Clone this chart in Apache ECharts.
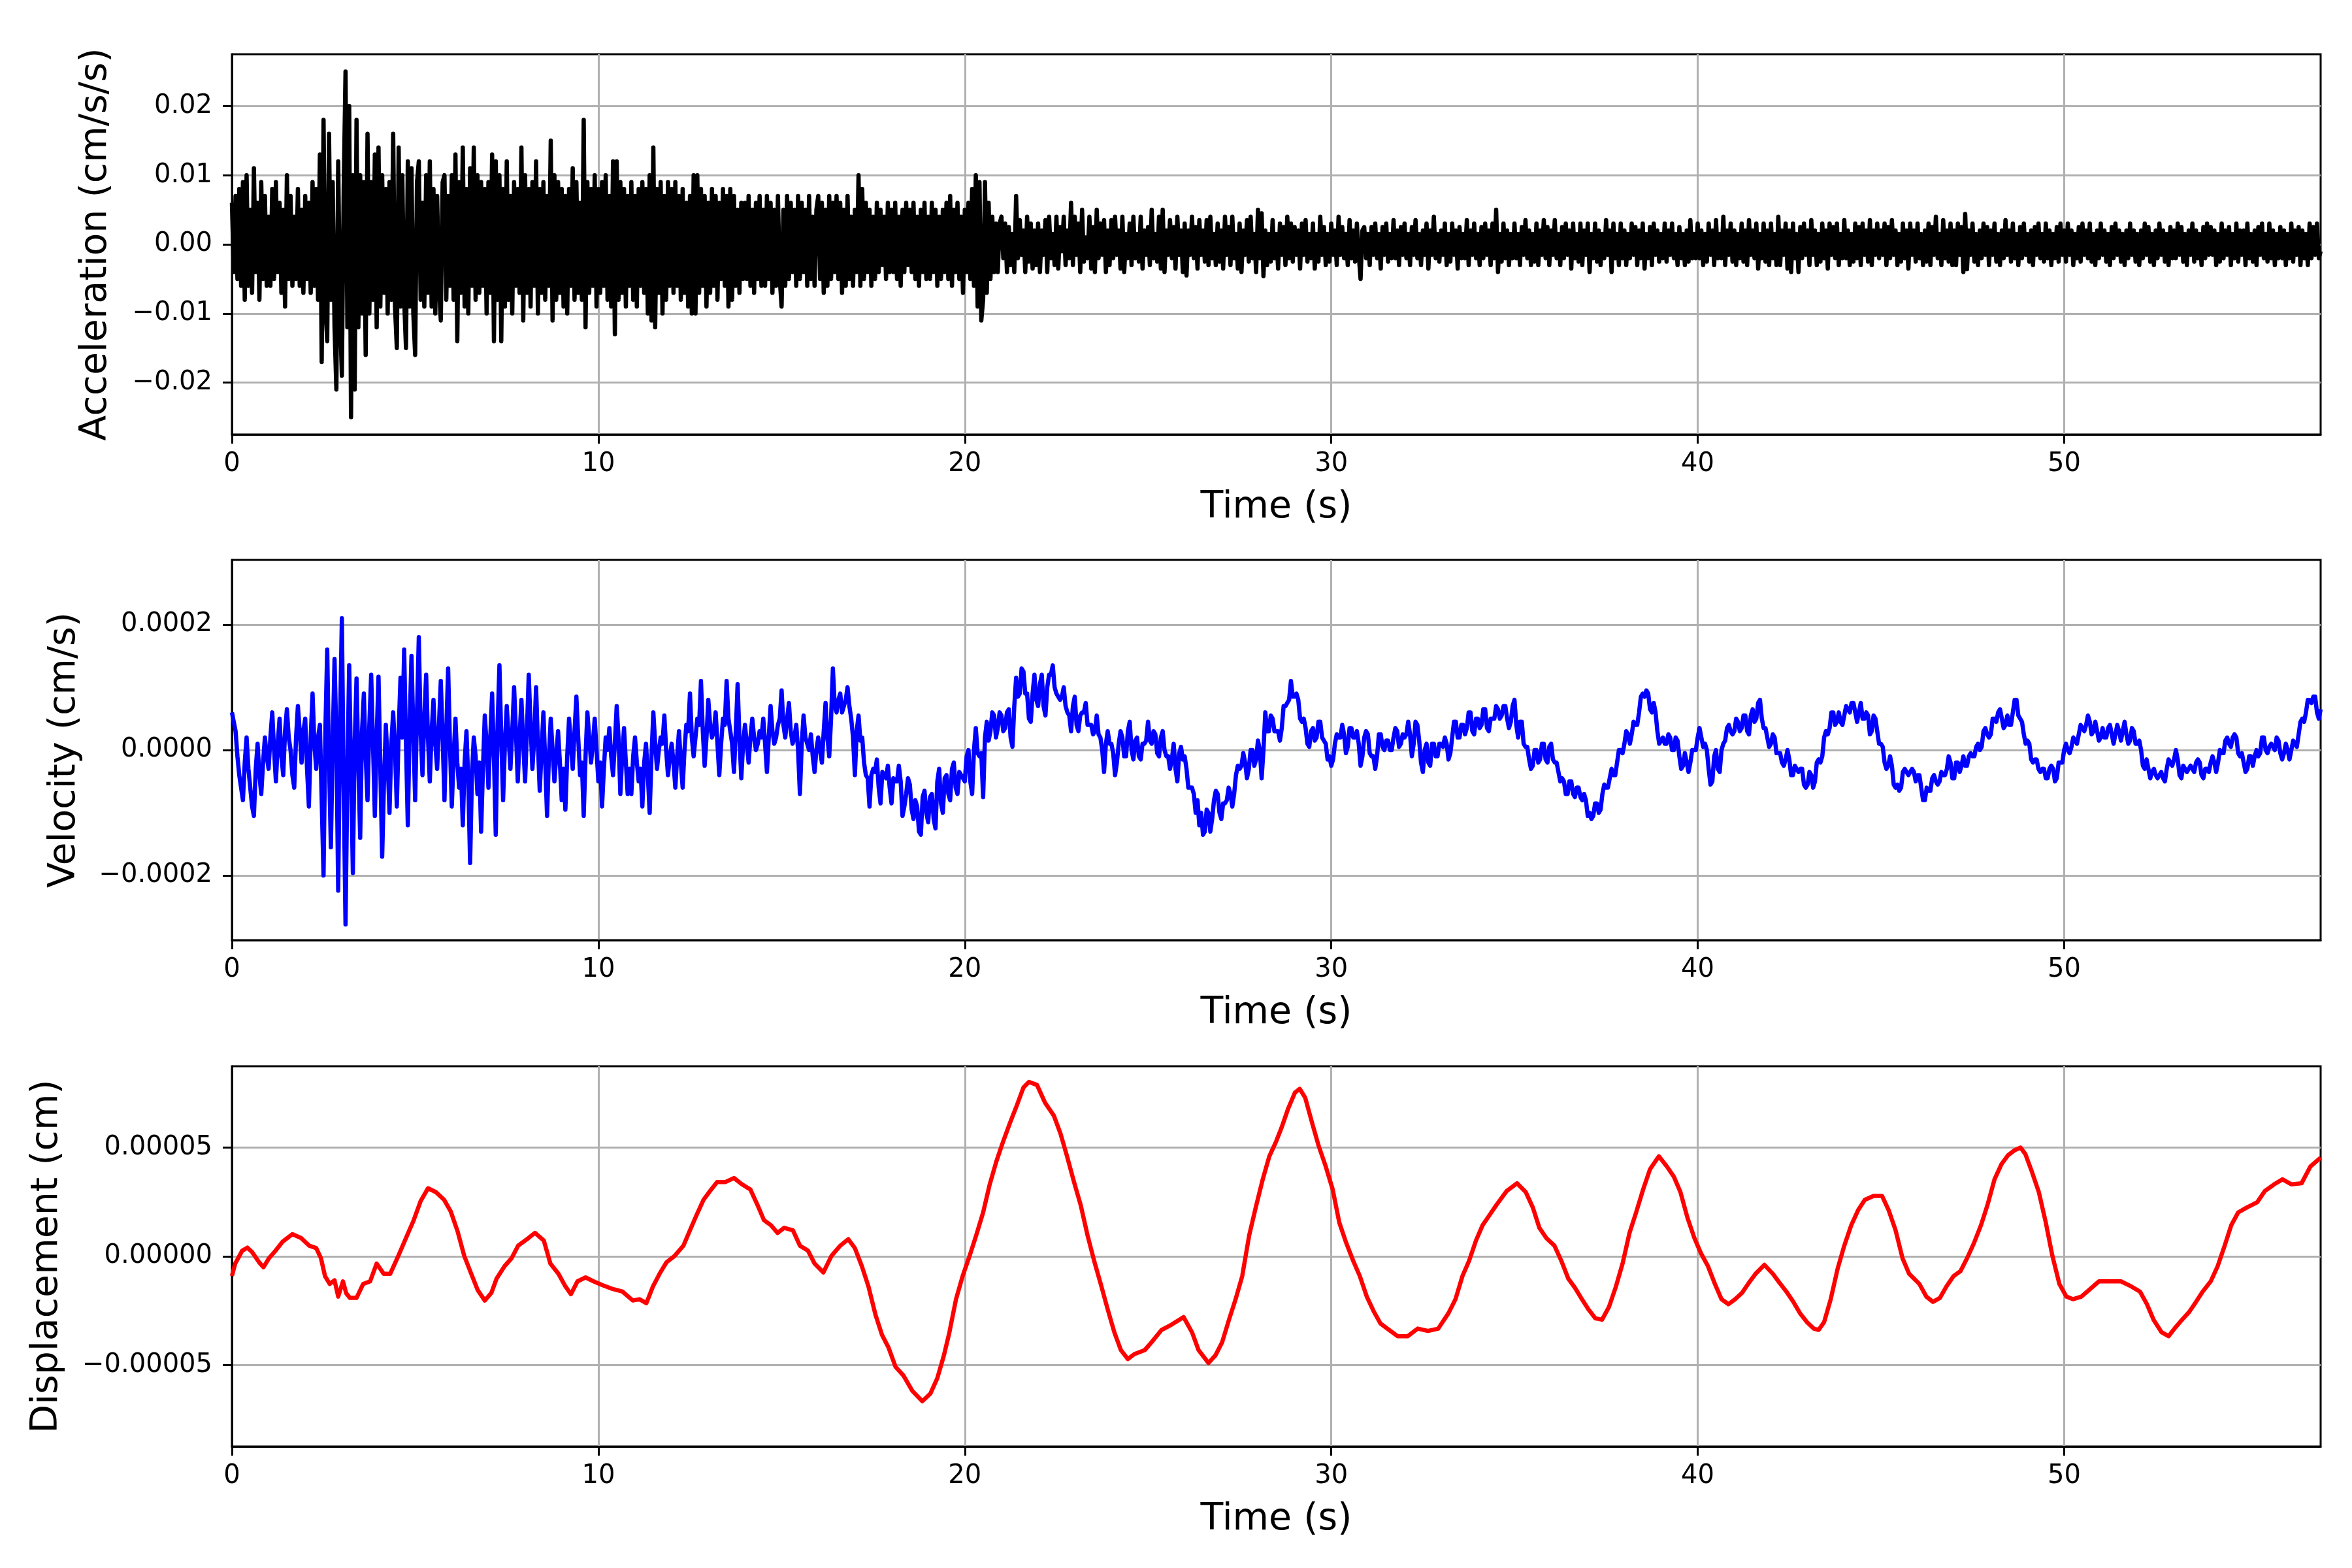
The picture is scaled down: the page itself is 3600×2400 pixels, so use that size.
<!DOCTYPE html>
<html>
<head>
<meta charset="utf-8">
<script src="https://cdn.jsdelivr.net/npm/echarts@6/dist/echarts.min.js"></script>
<style>
html, body { margin: 0; padding: 0; background: #fff; }
#chart { width: 3600px; height: 2400px; }
</style>
</head>
<body>
<div id="chart"></div>
<script>
// acceleration, in 0.001 cm/s/s; one row per second of record
var accRows = [
  [6,-4,7,-5,8,-6,9,-8,10,-6,5,-7,11,-4,6,-8,9,-5,7,-6],
  [4,-6,8,-5,9,-4,6,-7,5,-9,10,-5,7,-6,4,-5,8,-6,5,-7],
  [7,-5,6,-7,9,-6,8,-8,13,-17,18,-9,-14,16,-8,9,-12,-21,12,-10],
  [-19,8,25,-12,20,-25,10,-21,18,-12,10,-10,9,-16,16,-10,9,-8,13,-12],
  [14,-9,10,-7,8,-10,9,-8,16,-9,-15,14,-9,10,-8,-15,12,-9,11,-10],
  [-16,9,12,-8,6,-9,10,-7,12,-9,8,-10,7,-6,-11,9,10,-8,7,-6],
  [10,-8,13,-14,9,-7,14,-9,8,-10,11,-6,14,-8,10,-7,9,-6,8,-10],
  [9,-7,13,-14,12,-8,10,-14,8,-9,12,-8,7,-10,9,-6,8,-7,14,-11],
  [10,-7,8,-9,9,-6,12,-10,8,-7,9,-8,7,-6,15,-11,10,-8,9,-7],
  [8,-9,7,-10,8,-6,11,-8,9,-7,6,-8,18,-12,9,-7,8,-6,10,-9],
  [8,-7,9,-6,10,-8,7,-9,12,-13,12,-8,9,-7,8,-9,7,-6,9,-8],
  [7,-9,8,-6,9,-7,8,-10,10,-11,14,-12,8,-7,9,-10,7,-8,9,-6],
  [8,-7,9,-6,7,-8,8,-7,6,-9,7,-10,10,-10,10,-7,8,-6,7,-9],
  [6,-7,8,-6,7,-8,6,-5,8,-6,7,-9,8,-8,7,-6,5,-7,6,-5],
  [6,-5,7,-6,5,-7,6,-5,7,-6,5,-6,7,-5,6,-7,5,-6,7,-5],
  [-9,5,-6,7,-5,6,-4,5,-6,7,-5,6,-4,5,-6,7,-5,4,-6,5],
  [7,-5,6,-7,5,-6,7,-5,6,-4,7,-5,6,-7,5,-6,7,-5,4,-6],
  [5,-4,10,-6,8,-5,6,-4,5,-6,4,-5,6,-4,5,-3,4,-5,6,-4],
  [5,-4,6,-5,4,-6,5,-4,6,-3,5,-4,6,-5,4,-6,5,-4,6,-5],
  [4,-5,6,-4,5,-6,4,-5,5,-4,6,-5,7,-6,5,-4,6,-5,4,-7],
  [5,-4,6,-5,8,-6,10,-9,9,-11,-8,9,-7,6,-5,4,-4,3,-4,3],
  [4,-2,3,-4,2.5,-3,1.5,-4,7,-2,3.5,-1.5,2,-4,4,-2.5,3,-3.5,2,-3],
  [3,-4,2,-1.5,3.5,-4,4,-2,1.5,-3,4,-3.5,2.5,-1,4,-3,2,-2,6,-3],
  [4,-1.5,3,-4,5,-2.5,1,-2,4,-3.5,2.5,-4,5,-2,3,-1.5,3.5,-4,2,-3],
  [3.5,-2,4,-1.5,2,-3.5,4,-4,1.5,-2,3,-3,4,-2,1.5,-2.5,4,-3.5,2,-1.5],
  [2.5,-3,5,-2,1.5,-2.5,4,-3.5,5,-4,2,-1.5,3.5,-2,2.5,-3.5,4,-1.5,2,-4],
  [3,-4.5,2,-1.5,4,-2,2.5,-3.5,3.5,-1.5,2,-2.5,3.5,-3,4,-2,1.5,-3,3,-2.5],
  [2,-3.5,4,-1.5,2.5,-3,4,-2,1.5,-3.5,3,-4,2,-1.5,3.5,-2.5,4,-2,1.5,-4],
  [5,-2,4.5,-4.6,2,-3,1.5,-2.5,3.5,-2,1.5,-3.5,3,-1.5,2.5,-3,4,-2,3,-2.5],
  [2.5,-1.5,2,-3.5,3,-1.5,3.5,-2.5,1.5,-2,3,-3.5,1.5,-2.5,4,-1.5,2.5,-3,1.5,-2.5],
  [3,-1.5,2,-3,4,-1.5,2.5,-2,1.5,-3,3.5,-2,2,-2.5,3,-1.5,-5,2,2.5,-2],
  [1.5,-3,2.5,-1.5,3,-2,1.5,-3.5,2.5,-1.5,3,-2.5,1.5,-2,3.5,-2,2,-3,2.5,-1.5],
  [3,-2,1.5,-3,2.5,-1.5,3.5,-2,1.5,-3,2,-1.5,3,-3.5,2,-1.5,4,-2,1.5,-2.5],
  [2,-1.5,3,-3,1.5,-2.5,3,-1.5,2,-3.5,2.5,-2,1.5,-2,3.5,-3,2,-1.5,3,-2],
  [1.5,-3,2.5,-2,3,-1.5,2,-3,3,-2,5,-4,1.5,-2.5,3,-2,2,-3,1.5,-2],
  [3,-2,1.5,-3,2.5,-1.5,3.5,-2,2,-3,1.5,-2.5,3,-3,2,-1.5,3.5,-2,2.5,-3],
  [2,-1.5,3.5,-2,1.5,-3,2.5,-2,3,-1.5,2,-3.5,3,-2,1.5,-2.5,3,-3,2,-1.5],
  [3,-4,1.5,-2,3,-2.5,2,-3,1.5,-2,3.5,-1.5,2,-4,3,-2,1.5,-3,3,-2],
  [2,-3,1.5,-2,3,-1.5,2.5,-3,2,-2,3,-3.5,1.5,-2,2.5,-3,3,-1.5,2,-2.5],
  [1.5,-2,3,-2.5,2,-1.5,3,-2,1.5,-3,2.5,-2,1.5,-3,2,-2.5,3.5,-2,1.5,-2],
  [3,-2,2,-3,1.5,-2.5,3,-1.5,2,-3,3.5,-2,1.5,-2,4,-3,2,-1.5,3,-2.5],
  [2,-3,1.5,-2,3,-2.5,2,-3,3.5,-1.5,2,-2,3,-3.5,1.5,-2,3,-2.5,2,-3],
  [3,-2,1.5,-3,4,-3,2,-1.5,3,-3.5,2,-4,3,-2,1.5,-4,2.5,-2,3,-1.5],
  [2,-3,3.5,-1.5,2,-3,1.5,-2.5,3,-2,2,-3.5,3,-1.5,2.5,-2,3,-3,1.5,-2],
  [3.5,-2,2,-3,1.5,-2.5,3,-2,2.5,-3,3,-1.5,2,-2.5,3.5,-3,2,-1.5,3,-2],
  [2,-1.5,3,-3,2.5,-2,3.5,-1.5,2,-3,1.5,-2.5,3,-2,2,-3.5,3,-1.5,2,-2.5],
  [3,-2,1.5,-3,2,-2.5,3,-3,2.5,-1.5,4,-2,1.5,-3,3.5,-2,2,-2.5,3,-3],
  [2,-3,3,-1.5,2.5,-4,4.4,-3.6,2,-1.5,3,-2.5,1.5,-3,2,-2,3,-1.5,2.5,-3],
  [2,-1.5,3,-2.5,1.5,-3,2,-2,3.5,-1.5,2,-2.5,3,-2,1.5,-3,2.5,-2,3,-1.5],
  [1.5,-2.5,2,-3,2.5,-1.5,3,-2,1.5,-2.5,3,-2,2,-3,1.5,-2,2.5,-2.5,3,-1.5],
  [2,-2.5,3,-1.5,2,-3,1.5,-2,2.5,-2.5,3,-1.5,2,-2,3,-2.5,1.5,-3,2,-2],
  [3,-1.5,2,-2.5,1.5,-3,2.5,-2,3,-1.5,2,-2.5,1.5,-3,2,-2,3,-1.5,2,-2.5],
  [1.5,-3,2,-2,3,-1.5,2.5,-2.5,1.5,-3,2,-2,3,-1.5,2,-2.5,1.5,-3,2.5,-2],
  [2,-2,3,-1.5,2.5,-2.5,1.5,-3,2,-1.5,3,-2.5,2,-2,1.5,-3,2.5,-2,3,-1.5],
  [2.5,-1.5,2,-3,1.5,-2.5,3,-2,2,-1.5,2.5,-3,1.5,-2,3,-2.5,2,-1.5,2,-3],
  [3,-2,1.5,-2.5,2,-3,2.5,-1.5,3,-2,1.5,-2.5,3,-2,2,-3,1.5,-2,2.5,-2],
  [2,-3,1.5,-2,3,-2.5,2,-1.5,2.5,-3,2,-2,1.5,-3,3,-2,2.5,-1.5,3,-2],
  [-1]
];

// velocity, in 0.0001 cm/s; one row per second of record
var velRows = [
  [0.6,0.45,0.3,-0.1,-0.4,-0.6,-0.8,-0.2,0.2,-0.3,-0.6,-0.9,-1.05,-0.3,0.1,-0.4,-0.7,-0.2,0.2,-0.1],
  [-0.3,0.2,0.6,0.0,-0.5,0.1,0.5,-0.1,-0.4,0.3,0.65,0.2,0.0,-0.4,-0.6,0.2,0.7,0.3,-0.2,0.3],
  [0.5,-0.3,-0.9,0.2,0.9,0.1,-0.3,0.2,0.4,-0.8,-2.0,0.3,1.6,-0.2,-1.55,0.1,1.45,0.2,-2.24,0.4],
  [2.1,-0.6,-2.78,-0.4,1.35,-0.3,-1.96,0.1,1.14,-0.2,-1.4,0.3,0.9,-0.1,-0.8,0.4,1.2,0.1,-1.05,0.2],
  [1.17,-0.3,-1.7,-0.5,0.4,-0.2,-1.0,0.1,0.6,0.0,-0.9,0.3,1.15,0.2,1.6,0.1,-1.2,0.4,1.5,0.3],
  [-0.8,0.6,1.8,0.3,-0.4,0.5,1.2,0.2,-0.5,0.3,0.8,0.1,-0.3,0.4,1.1,0.2,-0.8,0.3,1.3,0.1],
  [-0.9,-0.1,0.5,-0.2,-0.6,-0.3,-1.2,-0.2,0.3,-0.5,-1.8,-0.4,0.2,-0.1,-0.7,-0.2,-1.3,-0.3,0.55,0.1],
  [-0.6,0.2,0.9,-0.1,-1.35,0.4,1.35,0.2,-0.8,0.1,0.7,0.2,-0.3,0.3,1.0,0.3,-0.5,0.2,0.8,0.1],
  [-0.5,0.3,1.2,0.4,-0.3,0.2,1.0,0.1,-0.65,0.0,0.6,-0.2,-1.05,-0.1,0.5,0.0,-0.5,-0.1,0.3,-0.2],
  [-0.8,-0.3,-0.95,-0.1,0.5,0.1,-0.3,0.3,0.85,0.2,-0.4,-0.2,-1.05,-0.1,0.6,0.2,-0.2,0.1,0.5,0.0],
  [-0.5,-0.2,-0.9,-0.3,0.2,0.0,0.35,-0.1,-0.4,0.1,0.7,0.2,-0.7,-0.1,0.35,-0.2,-0.7,-0.3,-0.7,-0.1],
  [0.2,-0.2,-0.5,-0.3,-0.9,-0.2,0.1,-0.4,-1.0,-0.1,0.6,0.1,-0.3,0.0,0.2,0.1,0.55,0.0,-0.4,-0.1],
  [0.1,-0.2,-0.6,-0.1,0.3,-0.2,-0.6,0.0,0.4,0.3,0.9,0.2,-0.1,0.2,0.5,0.4,1.1,0.3,-0.25,0.2],
  [0.8,0.4,0.2,0.3,0.6,0.1,-0.4,0.1,0.5,0.4,1.1,0.5,0.3,0.1,-0.35,0.3,1.05,0.2,-0.45,0.1],
  [0.4,0.1,-0.2,0.2,0.5,0.2,0.0,0.1,0.3,0.2,0.5,0.1,-0.35,0.2,0.7,0.3,0.1,0.2,0.4,0.5],
  [0.95,0.4,0.2,0.5,0.75,0.3,0.1,0.2,0.4,0.0,-0.7,0.1,0.55,0.2,0.1,0.0,0.25,-0.1,-0.35,0.0],
  [0.2,0.0,-0.2,0.3,0.75,0.2,-0.1,0.5,1.3,0.7,0.6,0.8,0.9,0.6,0.7,0.8,1.0,0.7,0.5,0.2],
  [-0.4,0.3,0.55,0.15,0.2,-0.2,-0.4,-0.45,-0.9,-0.4,-0.3,-0.35,-0.15,-0.6,-0.85,-0.35,-0.4,-0.45,-0.25,-0.6],
  [-0.85,-0.45,-0.5,-0.5,-0.25,-0.5,-1.05,-0.9,-0.7,-0.45,-0.55,-0.95,-1.1,-0.8,-0.9,-1.3,-1.35,-0.75,-0.65,-1.0],
  [-1.15,-0.75,-0.7,-1.1,-1.25,-0.5,-0.3,-0.85,-1.0,-0.45,-0.4,-0.7,-0.8,-0.3,-0.2,-0.6,-0.7,-0.35,-0.4,-0.45],
  [-0.5,-0.1,0.0,-0.5,-0.7,0.0,0.35,-0.05,-0.1,-0.05,-0.75,0.2,0.45,0.15,0.3,0.6,0.55,0.2,0.35,0.6],
  [0.55,0.3,0.35,0.6,0.65,0.2,0.05,0.7,1.15,0.85,0.9,1.3,1.25,0.9,0.9,0.5,0.45,0.9,1.2,0.8],
  [0.7,1.05,1.2,0.7,0.55,1.0,1.2,1.2,1.35,1.0,0.9,0.85,0.8,0.85,1.0,0.7,0.6,0.55,0.3,0.7],
  [0.85,0.4,0.3,0.55,0.6,0.6,0.75,0.4,0.4,0.4,0.25,0.3,0.55,0.25,0.2,0.0,-0.35,0.1,0.3,0.1],
  [0.1,-0.05,-0.4,-0.2,0.1,0.3,0.2,-0.1,-0.1,0.3,0.45,0.0,-0.15,0.15,0.2,-0.1,-0.15,0.1,0.1,0.15],
  [0.45,0.15,0.1,0.3,0.25,-0.05,-0.1,0.2,0.3,0.0,-0.1,-0.1,-0.3,-0.15,0.1,-0.3,-0.5,-0.05,0.05,-0.15],
  [-0.1,-0.3,-0.6,-0.6,-0.6,-0.7,-1.0,-0.8,-1.2,-1.0,-1.35,-1.3,-0.95,-1.0,-1.3,-1.1,-0.8,-0.65,-0.7,-1.0],
  [-1.1,-0.85,-0.85,-0.8,-0.6,-0.7,-0.9,-0.7,-0.4,-0.25,-0.3,-0.25,-0.05,-0.2,-0.45,-0.3,0.0,0.0,-0.25,-0.15],
  [0.15,0.0,-0.45,0.0,0.6,0.3,0.3,0.55,0.5,0.3,0.3,0.3,0.15,0.35,0.7,0.7,0.75,0.8,1.1,0.85],
  [0.85,0.9,0.8,0.5,0.45,0.5,0.35,0.1,0.05,0.3,0.35,0.15,0.2,0.45,0.45,0.2,0.15,0.1,-0.15,-0.1],
  [-0.25,-0.15,0.1,0.25,0.2,0.2,0.4,0.25,-0.05,0.05,0.35,0.35,0.2,0.2,0.3,0.1,-0.25,-0.1,0.2,0.3],
  [0.25,-0.05,-0.1,-0.1,-0.3,-0.1,0.25,0.25,0.05,0.0,0.15,0.15,0.0,0.0,0.2,0.35,0.3,0.05,0.1,0.25],
  [0.2,0.25,0.45,0.25,-0.1,0.1,0.45,0.4,0.15,-0.2,-0.35,0.0,0.1,-0.2,-0.25,0.1,0.1,-0.1,-0.1,0.1],
  [0.1,0.05,0.2,0.1,-0.15,-0.05,0.2,0.45,0.45,0.2,0.2,0.4,0.4,0.25,0.35,0.6,0.6,0.3,0.25,0.5],
  [0.5,0.35,0.4,0.65,0.65,0.35,0.3,0.5,0.5,0.5,0.7,0.65,0.5,0.55,0.7,0.7,0.5,0.35,0.45,0.7],
  [0.8,0.4,0.2,0.45,0.45,0.1,0.05,0.05,-0.15,-0.3,-0.25,0.0,0.0,-0.2,-0.15,0.1,0.1,-0.15,-0.2,0.05],
  [0.1,-0.15,-0.2,-0.2,-0.35,-0.5,-0.45,-0.5,-0.7,-0.7,-0.5,-0.5,-0.7,-0.75,-0.6,-0.6,-0.75,-0.8,-0.7,-0.8],
  [-1.05,-1.0,-1.1,-1.05,-0.85,-0.85,-1.0,-0.95,-0.7,-0.55,-0.6,-0.6,-0.45,-0.3,-0.4,-0.4,-0.2,0.0,0.0,-0.05],
  [0.1,0.3,0.25,0.1,0.25,0.45,0.4,0.4,0.6,0.85,0.9,0.85,0.95,0.9,0.65,0.6,0.75,0.6,0.3,0.1],
  [0.15,0.2,0.1,0.1,0.25,0.2,0.0,0.0,0.2,0.15,-0.1,-0.3,-0.25,-0.05,-0.2,-0.35,-0.2,0.0,0.0,0.0],
  [0.2,0.35,0.2,0.05,0.1,0.0,-0.3,-0.55,-0.5,-0.1,0.0,-0.3,-0.35,0.0,0.1,0.15,0.35,0.4,0.3,0.25],
  [0.3,0.5,0.45,0.3,0.35,0.55,0.55,0.3,0.25,0.55,0.65,0.45,0.5,0.75,0.8,0.5,0.35,0.35,0.2,0.05],
  [0.1,0.25,0.2,-0.05,-0.05,-0.05,-0.2,-0.25,-0.15,0.0,-0.15,-0.4,-0.4,-0.25,-0.3,-0.35,-0.3,-0.3,-0.55,-0.6],
  [-0.55,-0.35,-0.4,-0.6,-0.5,-0.2,-0.15,-0.2,-0.1,0.2,0.3,0.25,0.35,0.6,0.6,0.4,0.45,0.6,0.45,0.4],
  [0.55,0.7,0.65,0.6,0.75,0.75,0.6,0.45,0.6,0.75,0.5,0.5,0.6,0.55,0.25,0.3,0.55,0.5,0.3,0.1],
  [0.1,0.05,-0.2,-0.3,-0.25,-0.1,-0.25,-0.55,-0.6,-0.55,-0.65,-0.6,-0.35,-0.3,-0.35,-0.4,-0.35,-0.3,-0.35,-0.5],
  [-0.4,-0.4,-0.6,-0.8,-0.8,-0.6,-0.65,-0.65,-0.45,-0.4,-0.5,-0.55,-0.5,-0.35,-0.4,-0.4,-0.3,-0.1,-0.2,-0.45],
  [-0.45,-0.2,-0.2,-0.35,-0.25,-0.1,-0.25,-0.25,-0.1,-0.05,-0.1,-0.1,0.05,0.1,0.0,0.05,0.3,0.35,0.25,0.2],
  [0.25,0.5,0.5,0.45,0.6,0.65,0.5,0.35,0.4,0.55,0.4,0.4,0.6,0.8,0.8,0.55,0.5,0.45,0.25,0.1],
  [0.15,0.1,-0.15,-0.2,-0.15,-0.15,-0.3,-0.35,-0.3,-0.3,-0.45,-0.45,-0.3,-0.25,-0.3,-0.5,-0.45,-0.2,-0.2,-0.2],
  [0.0,0.1,0.0,-0.05,0.05,0.2,0.15,0.1,0.25,0.4,0.35,0.3,0.4,0.55,0.45,0.25,0.3,0.45,0.3,0.15],
  [0.2,0.35,0.2,0.2,0.35,0.4,0.25,0.1,0.25,0.4,0.3,0.15,0.3,0.45,0.25,0.1,0.15,0.35,0.3,0.1],
  [0.1,0.15,0.0,-0.25,-0.3,-0.15,-0.3,-0.45,-0.35,-0.3,-0.4,-0.45,-0.4,-0.35,-0.45,-0.5,-0.3,-0.15,-0.2,-0.25],
  [-0.15,0.0,-0.15,-0.4,-0.45,-0.25,-0.3,-0.35,-0.3,-0.25,-0.3,-0.35,-0.2,-0.15,-0.2,-0.4,-0.45,-0.3,-0.3,-0.35],
  [-0.2,-0.1,-0.2,-0.35,-0.2,0.0,-0.05,-0.05,0.15,0.2,0.1,0.05,0.2,0.25,0.2,-0.05,-0.1,-0.05,-0.2,-0.35],
  [-0.3,-0.1,-0.1,-0.25,-0.1,0.0,-0.1,-0.05,0.2,0.2,0.0,-0.05,0.05,0.1,0.05,0.0,0.2,0.15,-0.05,-0.15],
  [-0.05,0.1,0.0,-0.15,0.0,0.15,0.1,0.05,0.25,0.45,0.5,0.45,0.6,0.8,0.8,0.75,0.85,0.85,0.6,0.5],
  [0.65]
];

// displacement, [time s, value in 0.00001 cm]
var dispPoints = [
  [0,-0.9],[0.09,-0.33],[0.28,0.26],[0.42,0.4],[0.55,0.2],[0.74,-0.27],[0.86,-0.5],[1.01,-0.09],
  [1.19,0.26],[1.38,0.67],[1.65,1.02],[1.89,0.84],[2.11,0.49],[2.3,0.38],[2.43,-0.09],[2.54,-0.91],
  [2.67,-1.27],[2.8,-1.1],[2.9,-1.85],[3.03,-1.15],[3.12,-1.7],[3.22,-1.91],[3.4,-1.91],[3.58,-1.27],
  [3.77,-1.15],[3.95,-0.33],[4.14,-0.8],[4.32,-0.8],[4.54,0.02],[4.78,0.96],[4.96,1.66],[5.15,2.54],
  [5.35,3.13],[5.57,2.95],[5.79,2.6],[5.97,2.07],[6.16,1.14],[6.34,0.02],[6.53,-0.8],[6.71,-1.56],
  [6.9,-2.03],[7.08,-1.68],[7.22,-1.03],[7.44,-0.45],[7.63,-0.09],[7.81,0.49],[8.09,0.84],[8.27,1.08],
  [8.51,0.73],[8.69,-0.33],[8.91,-0.8],[9.1,-1.38],[9.25,-1.74],[9.43,-1.15],[9.65,-0.97],[9.87,-1.15],
  [10.11,-1.32],[10.39,-1.5],[10.66,-1.62],[10.94,-2.03],[11.12,-1.97],[11.31,-2.15],[11.49,-1.38],[11.67,-0.8],
  [11.86,-0.27],[12.08,0.02],[12.32,0.49],[12.5,1.2],[12.68,1.9],[12.87,2.6],[13.05,3.01],[13.24,3.42],
  [13.47,3.42],[13.7,3.6],[13.92,3.31],[14.15,3.07],[14.34,2.37],[14.52,1.66],[14.71,1.43],[14.89,1.08],
  [15.07,1.31],[15.31,1.2],[15.5,0.49],[15.72,0.26],[15.9,-0.33],[16.14,-0.74],[16.36,0.02],[16.6,0.49],
  [16.82,0.79],[17.0,0.38],[17.19,-0.45],[17.37,-1.38],[17.56,-2.67],[17.74,-3.61],[17.92,-4.2],[18.11,-5.08],
  [18.33,-5.49],[18.57,-6.19],[18.84,-6.66],[19.06,-6.31],[19.25,-5.6],[19.43,-4.55],[19.58,-3.49],[19.76,-1.97],
  [19.94,-0.91],[20.13,0.02],[20.31,0.96],[20.5,2.02],[20.68,3.31],[20.86,4.36],[21.05,5.3],[21.23,6.12],
  [21.42,6.94],[21.6,7.76],[21.75,8.02],[21.97,7.88],[22.19,7.06],[22.43,6.47],[22.61,5.65],[22.79,4.6],
  [22.98,3.42],[23.16,2.37],[23.35,0.96],[23.53,-0.21],[23.71,-1.27],[23.9,-2.44],[24.08,-3.49],[24.26,-4.31],
  [24.45,-4.72],[24.63,-4.49],[24.91,-4.31],[25.09,-3.96],[25.37,-3.38],[25.64,-3.14],[25.97,-2.79],[26.2,-3.49],
  [26.38,-4.31],[26.65,-4.9],[26.84,-4.55],[27.02,-3.96],[27.21,-2.91],[27.39,-1.97],[27.57,-0.91],[27.76,0.96],
  [27.94,2.25],[28.13,3.54],[28.31,4.6],[28.5,5.3],[28.64,5.9],[28.83,6.82],[29.01,7.53],[29.14,7.7],
  [29.29,7.29],[29.48,6.12],[29.66,5.06],[29.85,4.13],[30.04,3.07],[30.22,1.55],[30.41,0.61],[30.6,-0.21],
  [30.78,-0.91],[30.97,-1.85],[31.15,-2.5],[31.34,-3.08],[31.53,-3.32],[31.81,-3.67],[32.09,-3.67],[32.36,-3.32],
  [32.64,-3.43],[32.92,-3.32],[33.2,-2.61],[33.39,-1.97],[33.58,-0.91],[33.76,-0.21],[33.95,0.73],[34.13,1.43],
  [34.32,1.9],[34.51,2.37],[34.79,3.01],[35.07,3.36],[35.31,2.95],[35.5,2.25],[35.68,1.31],[35.87,0.84],
  [36.09,0.49],[36.28,-0.21],[36.47,-1.03],[36.65,-1.44],[36.84,-1.97],[37.02,-2.44],[37.21,-2.85],[37.39,-2.91],
  [37.58,-2.32],[37.77,-1.38],[37.95,-0.33],[38.14,1.08],[38.32,2.02],[38.51,3.07],[38.7,4.01],[38.94,4.6],
  [39.16,4.13],[39.35,3.66],[39.53,2.95],[39.72,1.78],[39.91,0.84],[40.09,0.14],[40.28,-0.45],[40.47,-1.27],
  [40.65,-1.97],[40.84,-2.2],[41.02,-1.97],[41.21,-1.68],[41.4,-1.21],[41.58,-0.8],[41.82,-0.39],[42.05,-0.8],
  [42.23,-1.21],[42.42,-1.62],[42.61,-2.09],[42.79,-2.61],[42.98,-3.02],[43.17,-3.32],[43.3,-3.38],[43.45,-3.02],
  [43.63,-1.97],[43.82,-0.56],[44.0,0.49],[44.19,1.43],[44.38,2.13],[44.56,2.6],[44.8,2.78],[45.03,2.78],
  [45.21,2.13],[45.4,1.2],[45.59,-0.09],[45.77,-0.8],[46.05,-1.27],[46.24,-1.85],[46.42,-2.09],[46.61,-1.91],
  [46.79,-1.38],[46.98,-0.91],[47.17,-0.68],[47.35,-0.09],[47.54,0.61],[47.73,1.43],[47.91,2.37],[48.1,3.54],
  [48.29,4.24],[48.47,4.65],[48.66,4.89],[48.81,5.0],[48.94,4.71],[49.12,3.89],[49.31,2.95],[49.5,1.55],
  [49.68,0.02],[49.87,-1.27],[50.06,-1.85],[50.24,-1.97],[50.47,-1.85],[50.71,-1.5],[50.95,-1.15],[51.21,-1.15],
  [51.55,-1.15],[51.83,-1.38],[52.07,-1.62],[52.26,-2.2],[52.44,-2.91],[52.66,-3.49],[52.85,-3.67],[53.04,-3.26],
  [53.22,-2.91],[53.41,-2.56],[53.6,-2.09],[53.78,-1.62],[54.0,-1.15],[54.19,-0.45],[54.38,0.49],[54.56,1.43],
  [54.75,2.02],[54.99,2.25],[55.27,2.49],[55.48,3.01],[55.73,3.31],[55.96,3.54],[56.2,3.31],[56.48,3.36],
  [56.72,4.13],[57.0,4.54]
];

// axis ticks
var timeTicks = [0, 10, 20, 30, 40, 50];
var accTicks = [-0.02, -0.01, 0, 0.01, 0.02];
var velTicks = [-0.0002, 0, 0.0002];
var dispTicks = [-0.00005, 0, 0.00005];

// rows hold one second each, samples evenly spread inside the second
function fromRows(rows, unit) {
  var out = [];
  rows.forEach(function(row, sec) {
    row.forEach(function(v, j) {
      out.push([+(sec + j / row.length).toFixed(4), v * unit]);
    });
  });
  return out;
}

function scaledPoints(points, unit) {
  return points.map(function(p) { return [p[0], p[1] * unit]; });
}

function tickText(digits) {
  return function(v) {
    var s = Math.abs(v).toFixed(digits);
    return v < 0 ? '\u2212' + s : s;
  };
}

var panels = [
  { top: 83, min: -0.0275, max: 0.0275, ticks: accTicks, digits: 2, split: 5,
    name: 'Acceleration (cm/s/s)', gap: 179, color: '#000000', data: fromRows(accRows, 1e-3) },
  { top: 857, min: -0.000303, max: 0.000303, ticks: velTicks, digits: 4, split: 3,
    name: 'Velocity (cm/s)', gap: 227, color: '#0000ff', data: fromRows(velRows, 1e-4) },
  { top: 1632, min: -0.0000874, max: 0.0000874, ticks: dispTicks, digits: 5, split: 4,
    name: 'Displacement (cm)', gap: 254, color: '#ff0000', data: scaledPoints(dispPoints, 1e-5) }
];

var font = 'DejaVu Sans';
var grids = [], xAxes = [], yAxes = [], series = [];

panels.forEach(function(p, idx) {
  grids.push({
    left: 355, width: 3197, top: p.top, height: 582,
    show: true, borderColor: '#000', borderWidth: 3, backgroundColor: '#fff'
  });
  xAxes.push({
    type: 'value', gridIndex: idx, min: 0, max: 57, splitNumber: 5,
    axisLine: { show: true, onZero: false, lineStyle: { color: '#000', width: 3 } },
    axisTick: { show: true, inside: false, length: 14, customValues: timeTicks,
      lineStyle: { color: '#000', width: 3 } },
    axisLabel: { customValues: timeTicks, margin: 26, fontSize: 40, color: '#000', fontFamily: font },
    splitLine: { show: true, lineStyle: { color: '#b0b0b0', width: 3 } },
    name: 'Time (s)', nameLocation: 'middle', nameGap: 84,
    nameTextStyle: { fontSize: 57, color: '#000', fontFamily: font }
  });
  yAxes.push({
    type: 'value', gridIndex: idx, min: p.min, max: p.max, splitNumber: p.split,
    axisLine: { show: true, onZero: false, lineStyle: { color: '#000', width: 3 } },
    axisTick: { show: true, inside: false, length: 14, customValues: p.ticks,
      lineStyle: { color: '#000', width: 3 } },
    axisLabel: { customValues: p.ticks, margin: 30, fontSize: 40, color: '#000', fontFamily: font,
      formatter: tickText(p.digits) },
    splitLine: { show: true, lineStyle: { color: '#b0b0b0', width: 3 } },
    name: p.name, nameLocation: 'middle', nameRotate: 90, nameGap: p.gap,
    nameTextStyle: { fontSize: 57, color: '#000', fontFamily: font }
  });
  series.push({
    type: 'line', xAxisIndex: idx, yAxisIndex: idx, data: p.data,
    showSymbol: false, symbol: 'none', clip: true,
    lineStyle: { color: p.color, width: 6.5, join: 'round' }
  });
});

var chart = echarts.init(document.getElementById('chart'), null, { renderer: 'canvas' });
chart.setOption({
  animation: false,
  backgroundColor: '#ffffff',
  grid: grids,
  xAxis: xAxes,
  yAxis: yAxes,
  series: series
});
</script>
</body>
</html>
